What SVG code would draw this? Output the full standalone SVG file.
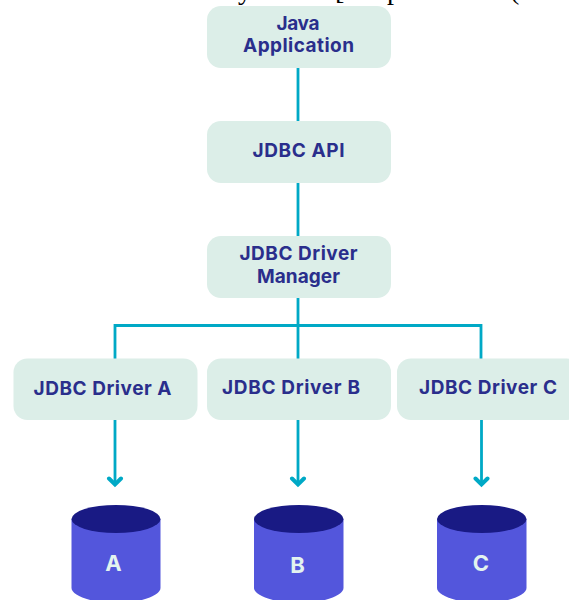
<svg xmlns="http://www.w3.org/2000/svg" width="569" height="600" viewBox="0 0 569 600">
<style>
.n{fill:#dceee8}
.t{font:700 19px Inter,"Open Sans",sans-serif;fill:#2a2e8c;text-anchor:middle}
.c{fill:none;stroke:#00a9c6;stroke-width:2.800}
.h{fill:none;stroke:#00a9c6;stroke-width:4;stroke-linecap:round}
.b{fill:#5356dc}
.e{fill:#191a84}
.d{font:700 22px Inter,"Open Sans",sans-serif;fill:#e3f3ef;text-anchor:middle}
.s{font:28px "Liberation Serif",serif;fill:#000}
</style>
<g id="clipped-text"><text class="s" x="238" y="-1">y</text><text class="s" x="335" y="-1">[</text><text class="s" x="387" y="-1">p</text><text class="s" x="510" y="-1">(</text></g>
<g id="connectors">
<path class="c" d="M298 68V122M298 183V237M298 298V359M115 359V325.500H481V359M115 420V483M298 420V483M481.500 420V483"/>
<path class="h" d="M109 478.500L115 484.500L121 478.500M292 478.500L298 484.500L304 478.500M475.500 478.500L481.500 484.500L487.500 478.500"/>
</g>
<g id="java-application"><rect class="n" x="207" y="6" width="184" height="62" rx="14"/><text class="t" x="298" y="30" textLength="43">Java</text><text class="t" x="298.500" y="52" textLength="111">Application</text></g>
<g id="jdbc-api"><rect class="n" x="207" y="121" width="184" height="62" rx="14"/><text class="t" x="298.500" y="157" textLength="92">JDBC API</text></g>
<g id="driver-manager"><rect class="n" x="207" y="236" width="184" height="62" rx="14"/><text class="t" x="298.500" y="260" textLength="118">JDBC Driver</text><text class="t" x="298.500" y="283" textLength="83">Manager</text></g>
<g id="driver-a"><rect class="n" x="13.500" y="358.500" width="184" height="61.500" rx="14"/><text class="t" x="102.500" y="395" textLength="138">JDBC Driver A</text></g>
<g id="driver-b"><rect class="n" x="207" y="358.500" width="184" height="61.500" rx="14"/><text class="t" x="291" y="394" textLength="138">JDBC Driver B</text></g>
<g id="driver-c"><rect class="n" x="397" y="358.500" width="184" height="61.500" rx="14"/><text class="t" x="488" y="394" textLength="138">JDBC Driver C</text></g>
<g id="db-a"><path class="b" d="M71.500 519V588C71.500 595 90 603 116 603S160.500 595 160.500 588V519Z"/><ellipse class="e" cx="116" cy="519" rx="44.500" ry="14"/><text class="d" x="113.500" y="571">A</text></g>
<g id="db-b"><path class="b" d="M254 519V588C254 595 273 603 299 603S343.500 595 343.500 588V519Z"/><ellipse class="e" cx="298.750" cy="519" rx="44.750" ry="14"/><text class="d" x="297.500" y="573">B</text></g>
<g id="db-c"><path class="b" d="M437 519V588C437 595 456 603 482 603S526.500 595 526.500 588V519Z"/><ellipse class="e" cx="481.750" cy="519" rx="44.750" ry="14"/><text class="d" x="481" y="571">C</text></g>
</svg>
